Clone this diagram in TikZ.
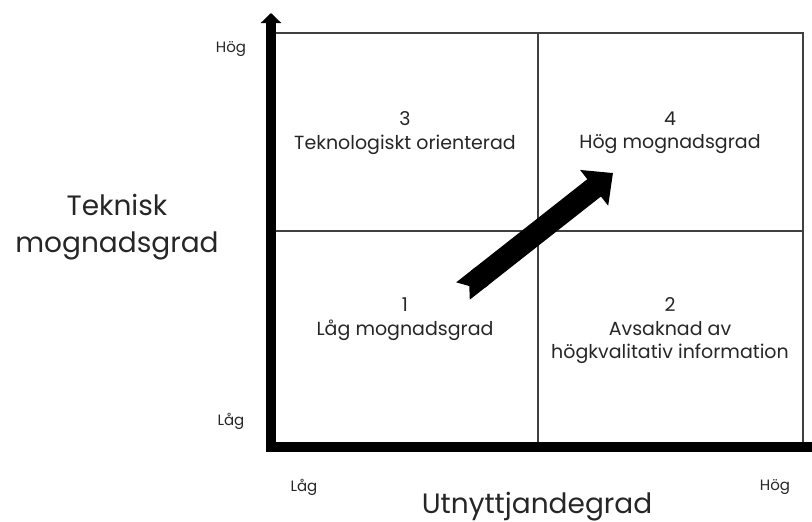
\documentclass[tikz,border=0pt]{standalone}
\usepackage{fontspec}
\setmainfont{Poppins}
\usetikzlibrary{arrows.meta, positioning}

\begin{document}
\begin{tikzpicture}[x=1pt, y=-1pt, text=black!85]

        % Setup the styles for the matrix
        \tikzset{grid line/.style={draw=black!75, line width=1.5pt},
                 axis line/.style={line width=10pt,
                                   -{Triangle[width=20pt, length=10pt]}},
                 level/.style={font=\fontsize{15}{18}\selectfont, inner sep=0pt},
                 axis title/.style={font=\fontsize{28}{37}\selectfont,
                                    align=center, inner sep=0pt},
                 quadrant/.style={font=\fontsize{19}{23.5}\selectfont,
                                  align=center, inner sep=0pt}}

        \useasboundingbox (0,0) rectangle (812,522);

        % Draw the four quadrants
        \draw[grid line] (271,33) rectangle (803,447);
        \draw[grid line] (538,33) -- (538,447);
        \draw[grid line] (271,231) -- (803,231);

        % Draw the axes
        \draw[axis line] (812,447) -| (271,13);

        % Levels on the axes
        \node[level] at (231,49)  (yhigh) {Hög};
        \node[level] at (231,421) (ylow)  {Låg};
        \node[level] at (304,487) (xlow)  {Låg};
        \node[level] at (775,487) (xhigh) {Hög};

        % Axis titles
        \node[axis title] at (117,227) (ytitle) {Teknisk\\mognadsgrad};
        \node[axis title, anchor=base] at (537,513) (xtitle) {Utnyttjandegrad};

        % Label the quadrants
        \node[quadrant] at (405,133) (q3) {3\\Teknologiskt orienterad};
        \node[quadrant] at (670,133) (q4) {4\\Hög mognadsgrad};
        \node[quadrant] at (405,319) (q1) {1\\Låg mognadsgrad};
        \node[quadrant] at (670,331) (q2) {2\\Avsaknad av\\högkvalitativ information};

        % Draw the big arrow from 1 to 4
        \coordinate (from) at (463,291);
        \coordinate (to)   at (613,173);
        \draw[line width=22pt,
              {Triangle Cap[reversed, length=8pt]}-{Triangle[width=44pt, length=24pt]}]
            (from) -- (to);
    \end{tikzpicture}
\end{document}
